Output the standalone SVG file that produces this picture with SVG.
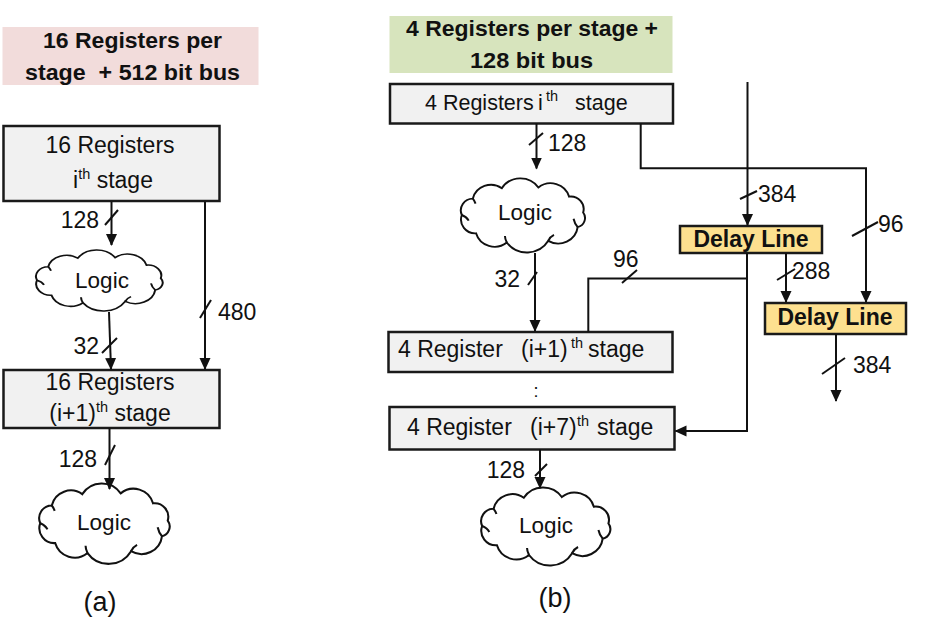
<svg xmlns="http://www.w3.org/2000/svg" width="930" height="642" viewBox="0 0 930 642">
<style>
text{font-family:"Liberation Sans",Arial,sans-serif;fill:#111}
.t{font-size:22.5px;font-weight:bold}
.b{font-size:23px}
.lg{font-size:22.5px}
.n{font-size:23px}
.dl{font-size:23px;font-weight:bold}
.sup{font-size:14.5px}
.box{fill:#f1f1f1;stroke:#1a1a1a;stroke-width:2.5}
.dbox{fill:#fde08f;stroke:#1a1a1a;stroke-width:2.5}
.cl{fill:#fff;stroke:#111;stroke-width:2;vector-effect:non-scaling-stroke}
.cl2{fill:none;stroke:#111;stroke-width:2;vector-effect:non-scaling-stroke}
.w{fill:none;stroke:#111;stroke-width:2}
.ar{marker-end:url(#ah)}
.sl{stroke:#111;stroke-width:2}
</style>
<defs>
<marker id="ah" viewBox="0 0 12 12" refX="11" refY="6" markerWidth="12" markerHeight="12" markerUnits="userSpaceOnUse" orient="auto">
<path d="M0,0.5 L12,6 L0,11.5 z" fill="#111"/>
</marker>
<path id="cloudP" d="M8,40 A12.3,12.3 0 0 1 19.2,22.8 A19,19 0 0 1 48.8,11.8 A22.4,22.4 0 0 1 86.1,11 A19.7,19.7 0 0 1 117.5,20.7 A13.2,13.2 0 0 1 131.8,37.4 A9.8,9.8 0 0 1 126.2,52.7 A20,20 0 0 1 96.2,67.2 A25.4,25.4 0 0 1 53.9,69 A19.7,19.7 0 0 1 22.5,59.3 A14.5,14.5 0 0 1 8,40 Z"/>
<path id="cloudI" d="M8,40 Q13,42 15,46 M126.2,52.7 Q123,49 122,44 M96.2,67.2 Q98,63 102,61 M53.9,69 Q52,65 52,62 M19.2,22.8 Q21,25 22,28"/>
</defs>

<!-- Panel (a) -->
<g id="titleA">
<rect x="2.5" y="27" width="256" height="58" fill="#f2dcdb"/>
<text class="t" x="43" y="48" textLength="179" lengthAdjust="spacingAndGlyphs">16 Registers per</text>
<text class="t" x="25" y="80" textLength="215" lengthAdjust="spacingAndGlyphs" xml:space="preserve">stage  + 512 bit bus</text>
</g>
<g id="regA1">
<rect class="box" x="3.5" y="126" width="216" height="75"/>
<text class="b" x="110" y="153" text-anchor="middle">16 Registers</text>
<text class="b" x="113" y="188" text-anchor="middle">i<tspan class="sup" dy="-9">th</tspan><tspan dy="9"> stage</tspan></text>
</g>
<g id="logicA1">
<use href="#cloudP" class="cl" transform="translate(29,249) scale(1.0,0.78)"/>
<use href="#cloudI" class="cl2" transform="translate(29,249) scale(1.0,0.78)"/>
<text class="lg" x="102" y="288" text-anchor="middle">Logic</text>
</g>
<g id="regA2">
<rect class="box" x="3.5" y="370" width="216" height="58"/>
<text class="b" x="110" y="390" text-anchor="middle">16 Registers</text>
<text class="b" x="110" y="421" text-anchor="middle">(i+1)<tspan class="sup" dy="-9">th</tspan><tspan dy="9"> stage</tspan></text>
</g>
<g id="logicA2">
<use href="#cloudP" class="cl" transform="translate(32,482) scale(1.03,1.03)"/>
<use href="#cloudI" class="cl2" transform="translate(32,482) scale(1.03,1.03)"/>
<text class="lg" x="104" y="530" text-anchor="middle">Logic</text>
</g>
<text x="100" y="611" text-anchor="middle" style="font-size:27px">(a)</text>

<!-- Panel (b) -->
<g id="titleB">
<rect x="389.5" y="16" width="283" height="57" fill="#d7e4bd"/>
<text class="t" x="406" y="36" textLength="252" lengthAdjust="spacingAndGlyphs">4 Registers per stage +</text>
<text class="t" x="470" y="68" textLength="123" lengthAdjust="spacingAndGlyphs">128 bit bus</text>
</g>
<g id="regB1">
<rect class="box" x="390" y="84" width="283" height="39.5"/>
<text x="425" y="110" style="font-size:21.5px">4 Registers<tspan x="538">i</tspan><tspan class="sup" x="546" dy="-9">th</tspan><tspan x="575" dy="9">stage</tspan></text>
</g>
<g id="logicB1">
<use href="#cloudP" class="cl" transform="translate(454,177) scale(0.98,0.95)"/>
<use href="#cloudI" class="cl2" transform="translate(454,177) scale(0.98,0.95)"/>
<text class="lg" x="525" y="220" text-anchor="middle">Logic</text>
</g>
<g id="regB2">
<rect class="box" x="388.5" y="332" width="284" height="40"/>
<text class="b" x="398" y="357">4 Register<tspan x="521">(i+1)</tspan><tspan class="sup" x="571" dy="-9">th</tspan><tspan x="588" dy="9">stage</tspan></text>
</g>
<text id="dots" x="536" y="397" text-anchor="middle" style="font-size:18px">:</text>
<g id="regB3">
<rect class="box" x="389.5" y="407" width="285" height="42.5"/>
<text class="b" x="407" y="435">4 Register<tspan x="530">(i+7)</tspan><tspan class="sup" x="577" dy="-9">th</tspan><tspan x="597" dy="9">stage</tspan></text>
</g>
<g id="logicB2">
<use href="#cloudP" class="cl" transform="translate(474,486) scale(1.02,1.0)"/>
<use href="#cloudI" class="cl2" transform="translate(474,486) scale(1.02,1.0)"/>
<text class="lg" x="546" y="533" text-anchor="middle">Logic</text>
</g>
<g id="delay1">
<rect class="dbox" x="680" y="226" width="142" height="27"/>
<text class="dl" x="751" y="247" text-anchor="middle">Delay Line</text>
</g>
<g id="delay2">
<rect class="dbox" x="765" y="303" width="141" height="31"/>
<text class="dl" x="835" y="325" text-anchor="middle">Delay Line</text>
</g>
<text x="555" y="607" text-anchor="middle" style="font-size:27px">(b)</text>

<!-- Connectors -->
<g id="connectors">
<line class="w ar" x1="111.5" y1="201.5" x2="111.5" y2="245"/>
<line class="w ar" x1="109" y1="312" x2="111" y2="369"/>
<line class="w ar" x1="205" y1="201.5" x2="205" y2="369"/>
<line class="w ar" x1="109.5" y1="428" x2="109.5" y2="489"/>
<line class="w ar" x1="536.5" y1="123.5" x2="536.5" y2="168.5"/>
<line class="w ar" x1="535" y1="253" x2="535" y2="331"/>
<polyline class="w" points="588.3,332 588.3,278.5 747,278.5"/>
<polyline class="w ar" points="747,253 747,431 675.5,431"/>
<line class="w ar" x1="747.5" y1="82" x2="747.5" y2="225"/>
<polyline class="w ar" points="640.7,123.5 640.7,168.3 866,168.3 866,302"/>
<line class="w ar" x1="786" y1="253" x2="786" y2="302"/>
<line class="w ar" x1="836" y1="334" x2="836" y2="401"/>
<line class="w ar" x1="540" y1="449.5" x2="540" y2="488"/>
<!-- bus width slashes -->
<line class="sl" x1="105" y1="225" x2="118" y2="210"/>
<line class="sl" x1="102" y1="353" x2="117" y2="338"/>
<line class="sl" x1="200" y1="318" x2="211" y2="300"/>
<line class="sl" x1="105" y1="465" x2="115" y2="445"/>
<line class="sl" x1="529" y1="145" x2="543" y2="133"/>
<line class="sl" x1="528" y1="285" x2="537" y2="272"/>
<line class="sl" x1="622" y1="283" x2="637" y2="270"/>
<line class="sl" x1="740" y1="199" x2="757" y2="191"/>
<line class="sl" x1="852" y1="236" x2="878" y2="222"/>
<line class="sl" x1="777" y1="280" x2="795" y2="269"/>
<line class="sl" x1="822" y1="374" x2="845" y2="358"/>
<line class="sl" x1="535" y1="476" x2="547" y2="464"/>
<!-- labels -->
<text class="n" x="99" y="228" text-anchor="end">128</text>
<text class="n" x="99" y="354" text-anchor="end">32</text>
<text class="n" x="218" y="320">480</text>
<text class="n" x="97" y="467" text-anchor="end">128</text>
<text class="n" x="548" y="151">128</text>
<text class="n" x="520" y="287" text-anchor="end">32</text>
<text class="n" x="613" y="267">96</text>
<text class="n" x="758" y="202">384</text>
<text class="n" x="878" y="232">96</text>
<text class="n" x="792" y="279">288</text>
<text class="n" x="853" y="373">384</text>
<text class="n" x="525" y="478" text-anchor="end">128</text>
</g>
</svg>
